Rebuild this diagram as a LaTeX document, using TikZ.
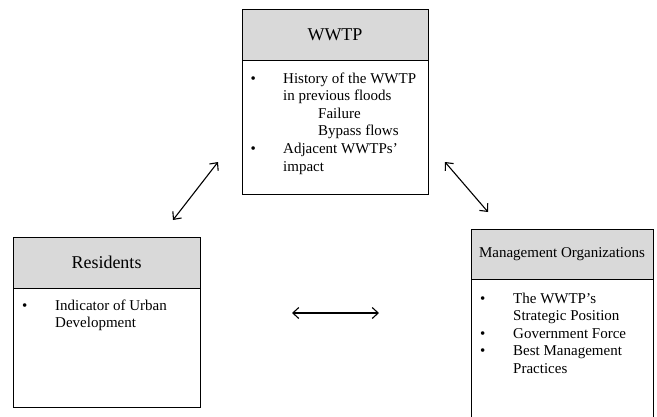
\documentclass[tikz,border=0pt]{standalone}
\usepackage{fontspec}
\setmainfont{Liberation Serif}
\usepackage{tikz}
\usetikzlibrary{positioning}
\usetikzlibrary{arrows.meta}

\tikzset{
	head/.style={draw, fill=black!15, line width=0.9pt, outer sep=0pt, inner sep=0pt, anchor=north west},
	body/.style={draw, line width=0.9pt, outer sep=0pt, inner sep=0pt},
	items/.style={anchor=base west, inner sep=0pt, font=\fontsize{15}{17.6}\selectfont},
	link/.style={{Straight Barb[length=6pt,width=11pt]}-{Straight Barb[length=6pt,width=11pt]}, line width=1.1pt}
}

\begin{document}
\begin{tikzpicture}[x=1pt, y=-1pt]
		\useasboundingbox (0,0) rectangle (657,416);
		\clip (0,0) rectangle (657,416);

		\coordinate (A) at (242,9) {};
		\coordinate (B) at (13,237) {};
		\coordinate (C) at (471,229) {};

		\coordinate (AB1) at (173,220) {};
		\coordinate (AB2) at (218,162) {};
		\coordinate (AC1) at (445,162) {};
		\coordinate (AC2) at (488,212) {};
		\coordinate (BC1) at (292,313) {};
		\coordinate (BC2) at (379,313) {};

		\node[head, minimum width=186pt, minimum height=51pt, font=\fontsize{18}{20}\selectfont] (wwtp) at (A) {WWTP};
		\node[body, minimum width=186pt, minimum height=134pt, below=0pt of wwtp] (wwtpbody) {};
		\node[items] (wwtpitems) at ([xshift=8.5pt, yshift=-23pt]wwtpbody.north west) {%
			\begin{tabular}[t]{@{}p{32.5pt}@{}l@{}}
				\textbullet & History of the WWTP\\
				            & in previous floods\\
				            & \hspace{35pt}Failure\\
				            & \hspace{35pt}Bypass flows\\
				\textbullet & Adjacent WWTPs’\\
				            & impact
			\end{tabular}};

		\node[head, minimum width=187pt, minimum height=51pt, font=\fontsize{18}{20}\selectfont] (res) at (B) {Residents};
		\node[body, minimum width=187pt, minimum height=119pt, below=0pt of res] (resbody) {};
		\node[items] (resitems) at ([xshift=9pt, yshift=-22pt]resbody.north west) {%
			\begin{tabular}[t]{@{}p{33pt}@{}l@{}}
				\textbullet & Indicator of Urban\\
				            & Development
			\end{tabular}};

		\node[head, minimum width=182pt, minimum height=50pt, font=\fontsize{15}{17}\selectfont] (mgmt) at (C) {Management Organizations};
		\node[body, minimum width=182pt, minimum height=150pt, below=0pt of mgmt] (mgmtbody) {};
		\node[items] (mgmtitems) at ([xshift=9pt, yshift=-24pt]mgmtbody.north west) {%
			\begin{tabular}[t]{@{}p{33pt}@{}l@{}}
				\textbullet & The WWTP’s\\
				            & Strategic Position\\
				\textbullet & Government Force\\
				\textbullet & Best Management\\
				            & Practices
			\end{tabular}};

		\draw[link] (AB1) -- (AB2);
		\draw[link] (AC1) -- (AC2);
		\draw[link] (BC1) -- (BC2);
\end{tikzpicture}
\end{document}
